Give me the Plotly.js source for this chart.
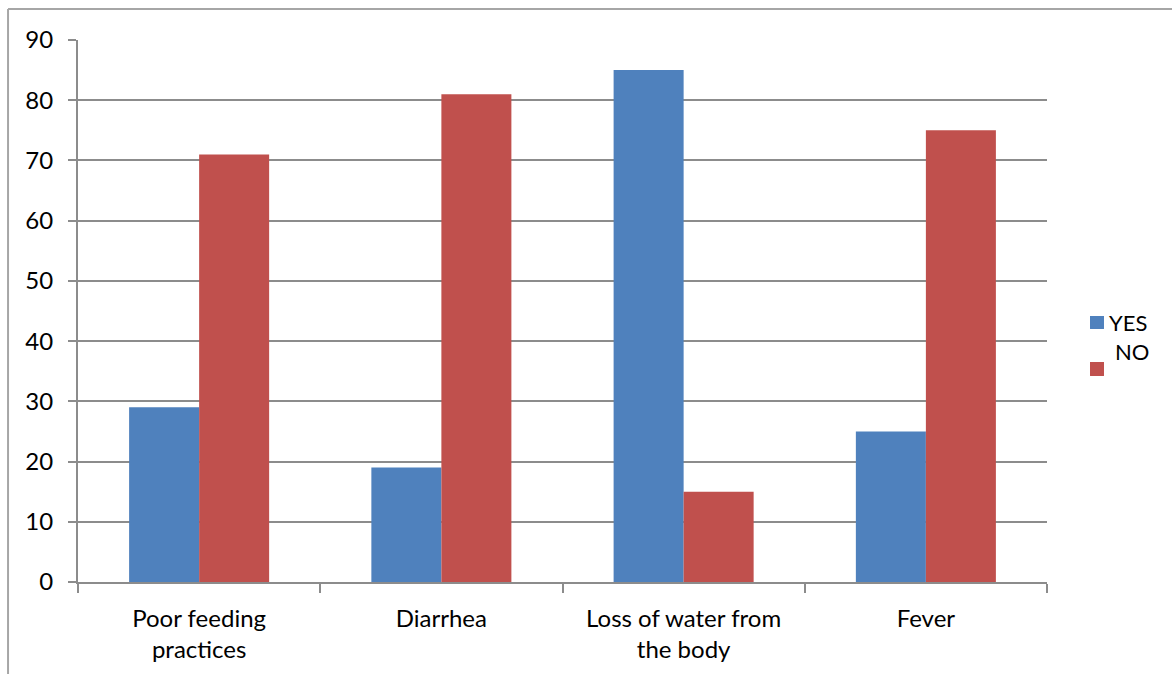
<!DOCTYPE html>
<html>
<head>
<meta charset="utf-8">
<script src="https://cdn.plot.ly/plotly-3.0.1.min.js"></script>
<style>
  html, body { margin: 0; padding: 0; background: #fff; }
  #chart { width: 1172px; height: 674px; }
</style>
</head>
<body>
<div id="chart"></div>
<script>
// Symptom categories and survey responses (%)
const categories = ["Poor feeding<br>practices", "Diarrhea", "Loss of water from<br>the body", "Fever"];
const yesValues = [29, 19, 85, 25];
const noValues = [71, 81, 15, 75];
const seriesNames = ["YES", "NO"];
const seriesColors = ["#4F81BD", "#C0504D"];

const font = { family: "Lato, 'Liberation Sans', sans-serif", size: 24, color: "#000" };
const gray = "#8c8c8c";

const traces = [
  { type: "bar", name: seriesNames[0], x: categories, y: yesValues, marker: { color: seriesColors[0] } },
  { type: "bar", name: seriesNames[1], x: categories, y: noValues, marker: { color: seriesColors[1] } }
];

// legend keys drawn as small squares with labels beside them
const keySquares = [
  { x0: 1.0444, x1: 1.0588, y0: 0.4668, y1: 0.4908 },
  { x0: 1.0444, x1: 1.0588, y0: 0.3801, y1: 0.4059 }
];
const keyLabels = [
  { x: 1.0619, y: 0.4779 },
  { x: 1.0681, y: 0.4260 }
];

const shapes = [
  // outer chart frame (top and left edges)
  { type: "line", xref: "paper", yref: "paper", x0: -0.0722, x1: 1.2, y0: 1.0572, y1: 1.0572,
    line: { color: "#a6a6a6", width: 2 } },
  { type: "line", xref: "paper", yref: "paper", x0: -0.0722, x1: -0.0722, y0: 1.0572, y1: -0.2,
    line: { color: "#a6a6a6", width: 2 } }
];
keySquares.forEach((k, i) => shapes.push({
  type: "rect", xref: "paper", yref: "paper", x0: k.x0, x1: k.x1, y0: k.y0, y1: k.y1,
  fillcolor: seriesColors[i], line: { width: 0 }
}));

const annotations = keyLabels.map((k, i) => ({
  xref: "paper", yref: "paper", x: k.x, y: k.y, xanchor: "left", yanchor: "middle",
  text: seriesNames[i], showarrow: false, font: { family: font.family, size: 22, color: "#000" }
}));

const layout = {
  width: 1172, height: 674,
  margin: { l: 78, r: 125, t: 40, b: 92 },
  paper_bgcolor: "#fff", plot_bgcolor: "#fff",
  barmode: "group", bargap: 0.422, bargroupgap: 0,
  font: font,
  showlegend: false,
  xaxis: {
    type: "category", tickson: "boundaries",
    showline: true, linecolor: gray, linewidth: 2,
    ticks: "outside", ticklen: 9, tickcolor: gray, tickwidth: 2,
    showgrid: false, zeroline: false,
    tickfont: font, automargin: false, ticklabelstandoff: 14
  },
  yaxis: {
    range: [0, 90], dtick: 10, tick0: 0,
    showline: true, linecolor: gray, linewidth: 2,
    ticks: "outside", ticklen: 8, tickcolor: gray, tickwidth: 2,
    showgrid: true, gridcolor: gray, gridwidth: 2,
    zeroline: false, tickfont: font, automargin: false, ticklabelstandoff: 10
  },
  shapes: shapes,
  annotations: annotations
};

Plotly.newPlot("chart", traces, layout, { displayModeBar: false, staticPlot: true });
</script>
</body>
</html>
